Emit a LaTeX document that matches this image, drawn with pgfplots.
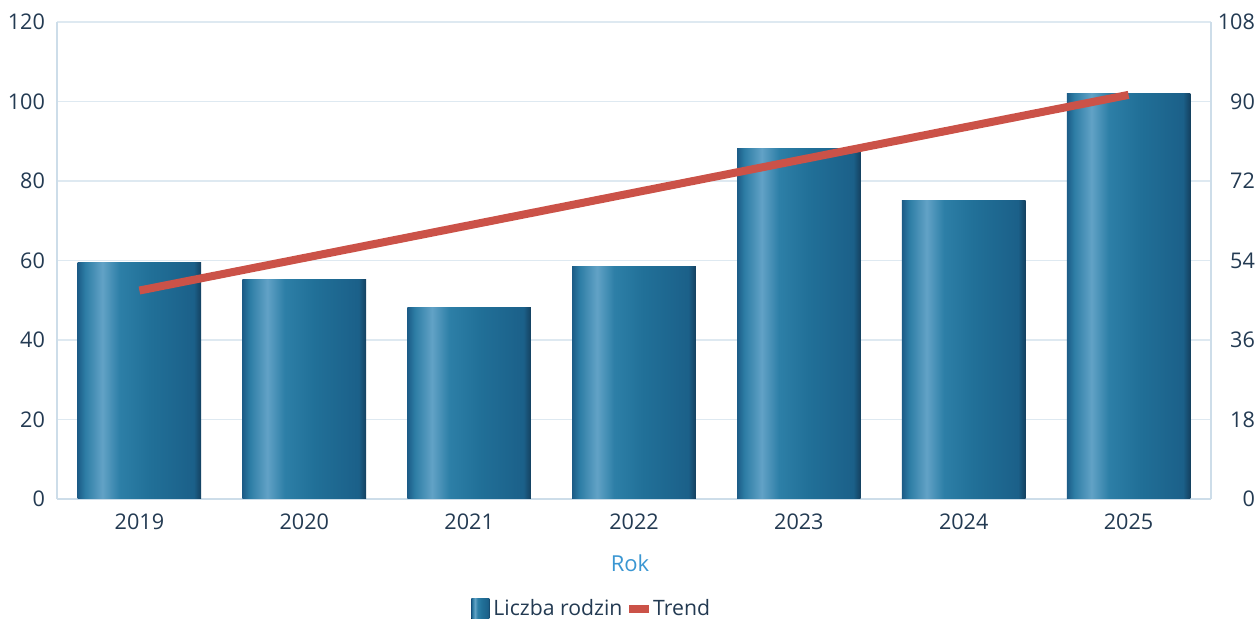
\documentclass[border=0pt]{standalone}
\usepackage{pgfplots}
\pgfplotsset{compat=1.18}
\usepackage{fontspec}
\setmainfont{Open Sans}
\definecolor{tickc}{RGB}{35,58,82}
\definecolor{rokc}{RGB}{58,150,210}
\definecolor{gridc}{RGB}{222,233,241}
\definecolor{axisc}{RGB}{205,221,233}
\definecolor{trendc}{RGB}{203,82,72}
\definecolor{b0}{RGB}{28,92,135}
\definecolor{b1}{RGB}{45,125,165}
\definecolor{b2}{RGB}{98,162,198}
\definecolor{b3}{RGB}{45,127,167}
\definecolor{b4}{RGB}{33,112,152}
\definecolor{b5}{RGB}{27,96,137}
\definecolor{b6}{RGB}{20,64,95}
\pgfdeclarehorizontalshading{barshade}{100bp}{color(0bp)=(b0); color(25bp)=(b0); color(28bp)=(b1); color(35bp)=(b2); color(42bp)=(b3); color(54bp)=(b4); color(72bp)=(b5); color(75bp)=(b6); color(100bp)=(b6)}
\pgfplotsset{onebar/.style={ybar, bar width=0.75, bar shift=0pt, draw=none, shade, shading=barshade}}
\begin{document}
\begin{tikzpicture}
\useasboundingbox (-28.5pt,-60.5pt) rectangle (601pt,249.5pt);
\begin{axis}[
  at={(0,0)}, anchor=south west, scale only axis,
  width=577pt, height=238.5pt,
  xmin=-0.5, xmax=6.5, ymin=0, ymax=120,
  xtick={0,1,2,3,4,5,6},
  xticklabels={2019,2020,2021,2022,2023,2024,2025},
  ytick={0,20,40,60,80,100,120},
  ymajorgrids, grid style={gridc, line width=0.6pt},
  axis line style={axisc, line width=0.6pt},
  major tick length=0pt,
  axis y line*=left, axis x line*=bottom,
  /pgf/number format/assume math mode=true,
  tick label style={font=\fontsize{10.8}{13}\selectfont, text=tickc},
  yticklabel style={xshift=-2.5pt},
  xticklabel style={yshift=-4pt},
  xlabel={Rok},
  xlabel style={at={(axis description cs:0.4965,-0.134)}, anchor=center, font=\fontsize{11}{13}\selectfont, text=rokc},
  legend style={at={(0.3588,-0.2305)}, anchor=west, draw=none, inner sep=0pt,
    legend columns=-1, font=\fontsize{10.6}{13}\selectfont, text=tickc,
    /tikz/every even column/.style={column sep=1.5pt}},
  legend cell align=left,
]
\addplot[onebar, legend image code/.code={\fill[shade, shading=barshade] (0pt,-5pt) rectangle (9pt,5pt);}]
  coordinates {(0,59.5)};
\addlegendentry{Liczba rodzin}
\addplot[onebar, forget plot] coordinates {(1,55.1)};
\addplot[onebar, forget plot] coordinates {(2,48.3)};
\addplot[onebar, forget plot] coordinates {(3,58.4)};
\addplot[onebar, forget plot] coordinates {(4,88.1)};
\addplot[onebar, forget plot] coordinates {(5,75.2)};
\addplot[onebar, forget plot] coordinates {(6,102.1)};
\addlegendimage{legend image code/.code={\fill[trendc] (0pt,-1.75pt) rectangle (9.5pt,1.75pt);}}
\addlegendentry{Trend}
\end{axis}
\begin{axis}[
  at={(0,0)}, anchor=south west, scale only axis,
  width=577pt, height=238.5pt,
  xmin=-0.5, xmax=6.5, ymin=0, ymax=108,
  axis y line*=right, axis x line=none,
  ytick={0,18,36,54,72,90,108},
  axis line style={axisc, line width=0.6pt},
  major tick length=0pt,
  /pgf/number format/assume math mode=true,
  tick label style={font=\fontsize{10.8}{13}\selectfont, text=tickc},
  yticklabel style={anchor=east, xshift=25.5pt},
]
\addplot[trendc, line width=4pt, line cap=butt] coordinates {(0,47.2) (6,91.5)};
\end{axis}
\end{tikzpicture}
\end{document}
